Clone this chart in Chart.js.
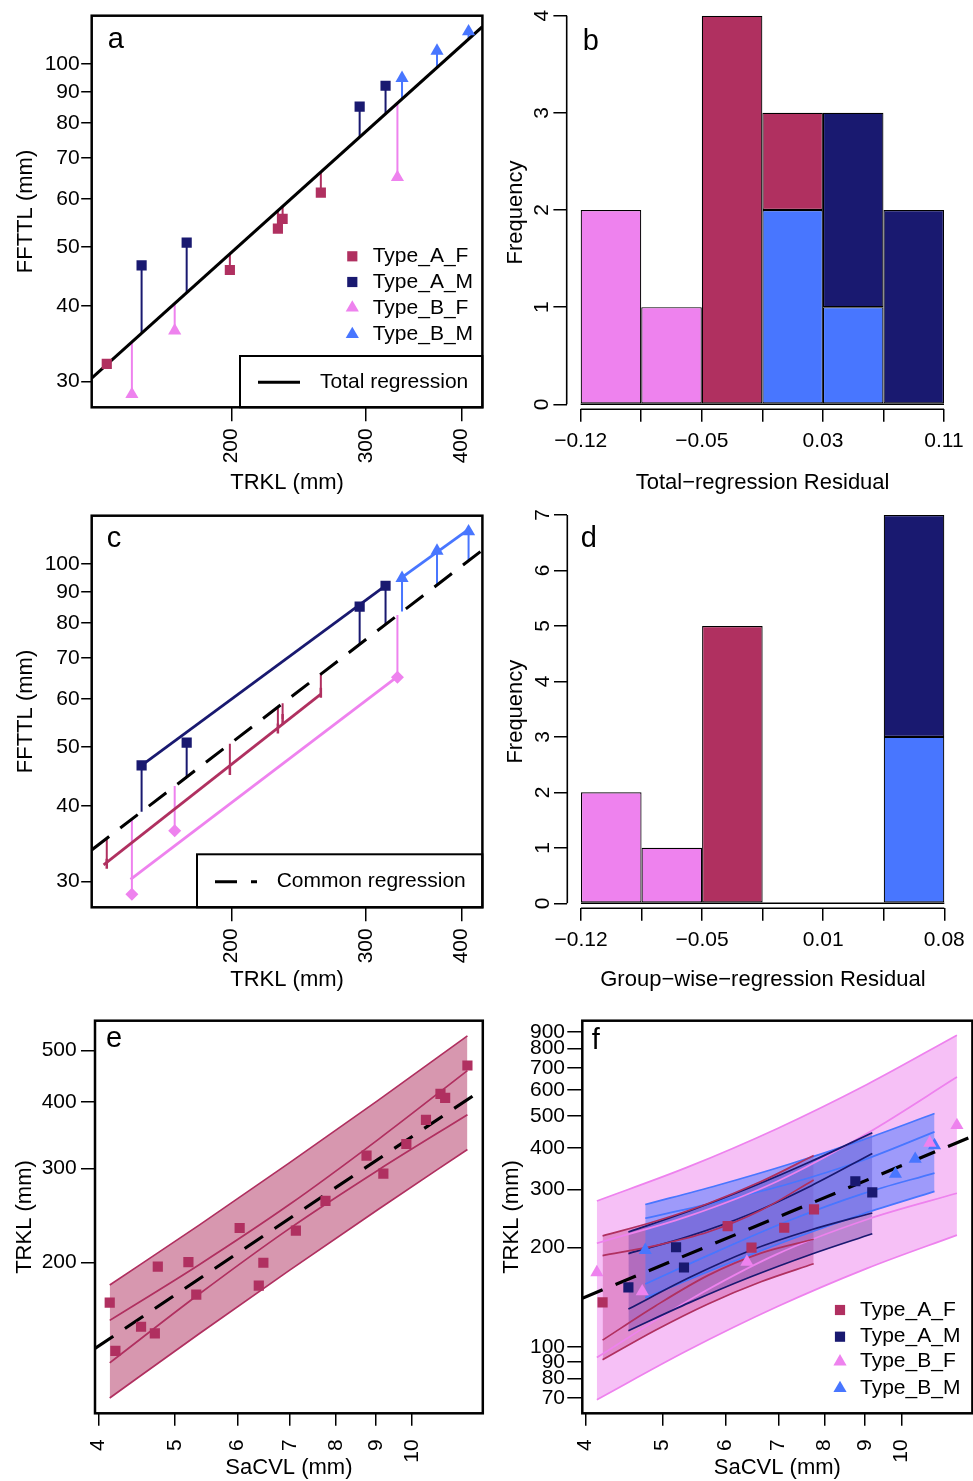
<!DOCTYPE html>
<html>
<head>
<meta charset="utf-8">
<title>Regression panels</title>
<script src="https://cdn.jsdelivr.net/npm/chart.js@4.4.1/dist/chart.umd.min.js"></script>
<style>
  html, body { margin:0; padding:0; background:#ffffff; width:973px; height:1481px; overflow:hidden; position:relative; }
  canvas { position:absolute; display:block; }
</style>
</head>
<body>
<canvas id="pa"></canvas>
<canvas id="pb"></canvas>
<canvas id="pc"></canvas>
<canvas id="pd"></canvas>
<canvas id="pe"></canvas>
<canvas id="pf"></canvas>
<script>
// ================= DATA =================
// Panels a & c : TRKL (x) vs FFTTL (y), by group
const trklAF  = [137.3, 199.0, 230.0, 233.3, 261.8];
const ffttlAF = [32.1, 45.8, 53.6, 55.6, 61.4];
const trklAM  = [152.5, 174.7, 294.3, 318.2];
const ffttlAM = [46.6, 50.8, 85.1, 92.1];
const trklBF  = [148.1, 168.5, 329.8];
const ffttlBF = [28.6, 36.4, 65.1];
const trklBM  = [334.4, 371.6, 408.7];
const ffttlBM = [94.8, 105.1, 113.1];

// Panel a : total regression line and fitted values
const totalLineTRKL  = [131.2, 426.1];
const totalLineFFTTL = [30.39, 115.2];
const totalFitAF = [32.0, 48.7, 57.4, 58.3, 66.4];
const totalFitAM = [36.1, 42.0, 75.8, 82.8];
const totalFitBF = [34.9, 40.4, 86.2];
const totalFitBM = [87.6, 98.7, 109.9];

// Panel c : common regression line, fitted values, group-wise lines
const commonLineTRKL  = [131.2, 426.1];
const commonLineFFTTL = [33.83, 105.4];
const commonFitAF = [35.4, 50.6, 58.2, 59.0, 65.9];
const commonFitAM = [39.1, 44.6, 73.8, 79.6];
const commonFitBF = [38.0, 43.1, 82.4];
const commonFitBM = [83.5, 92.4, 101.3];
const groupLineAF_TRKL = [136.0, 261.8], groupLineAF_FFTTL = [31.96, 61.05];
const groupLineAM_TRKL = [152.5, 318.2], groupLineAM_FFTTL = [46.6, 92.1];
const groupLineBF_TRKL = [147.5, 329.8], groupLineBF_FFTTL = [30.27, 65.25];
const groupLineBM_TRKL = [334.4, 408.7], groupLineBM_FFTTL = [95.1, 114.0];

// Panel b : total-regression residual histogram (6 bins)
const histB_edges = ['\u22120.12', '', '\u22120.05', '', '0.03', '', '0.11'];
const histB_BF = [2, 1, 0, 0, 0, 0];
const histB_BM = [0, 0, 0, 2, 1, 0];
const histB_AF = [0, 0, 4, 1, 0, 0];
const histB_AM = [0, 0, 0, 0, 2, 2];
const histB_yTicks = [0, 1, 2, 3, 4];

// Panel d : group-wise-regression residual histogram (6 bins)
const histD_edges = ['\u22120.12', '', '\u22120.05', '', '0.01', '', '0.08'];
const histD_BF = [2, 1, 0, 0, 0, 0];
const histD_BM = [0, 0, 0, 0, 0, 3];
const histD_AF = [0, 0, 5, 0, 0, 0];
const histD_AM = [0, 0, 0, 0, 0, 4];
const histD_yTicks = [0, 1, 2, 3, 4, 5, 6, 7];

// Panels e & f : SaCVL (x) vs TRKL (y), by group
const sacvlAF = [4.201, 6.040, 6.473, 7.118, 7.761];
const trklSAF = [136.3, 232.0, 199.6, 229.3, 260.8];
const sacvlAM = [4.528, 5.200, 5.321, 8.750, 9.191];
const trklSAM = [151.3, 200.2, 173.8, 317.3, 293.5];
const sacvlBF = [4.132, 4.714, 6.387, 10.86, 11.75];
const trklSBF = [167.9, 147.0, 180.7, 414.5, 468.8];
const sacvlBM = [4.755, 9.830, 10.41, 11.01];
const trklSBM = [196.2, 333.7, 370.4, 407.4];

// Panel e : pooled prediction / confidence bands
const bandE_x    = [4.132, 5.366, 6.969, 9.050, 11.75];
const bandE_PIup = [181.2, 234.9, 306.9, 403.2, 533.1];
const bandE_CIup = [155.5, 197.9, 256.2, 340.2, 458.7];
const bandE_CIlo = [129.4, 174.3, 230.9, 298.0, 378.8];
const bandE_PIlo = [111.1, 146.8, 192.7, 251.4, 326.0];
const commonE_SaCVL = [3.958, 12.29], commonE_TRKL = [137.7, 422.9];

// Panel f : group bands
const bandAF_x = [4.201, 4.897, 5.706, 6.653, 7.753];
const bandAF_PIup = [216.7, 239.9, 271.6, 316.5, 379.6];
const bandAF_CIup = [188.9, 202.5, 222.6, 259.1, 320.1];
const bandAF_CIlo = [104.7, 132.9, 164.5, 192.1, 211.6];
const bandAF_PIlo = [91.3, 112.2, 134.8, 157.3, 178.4];
const bandAM_x = [4.528, 5.405, 6.450, 7.700, 9.191];
const bandAM_PIup = [222.6, 257.8, 303.6, 364.5, 445.0];
const bandAM_CIup = [191.5, 216.4, 252.5, 307.6, 385.0];
const bandAM_CIlo = [130.0, 162.0, 195.6, 226.1, 254.3];
const bandAM_PIlo = [111.8, 136.0, 162.6, 190.7, 220.0];
const bandBF_x = [4.132, 5.366, 6.969, 9.050, 11.75];
const bandBF_PIup = [276.5, 349.5, 457.9, 623.3, 878.9];
const bandBF_CIup = [205.9, 247.8, 316.9, 442.8, 656.3];
const bandBF_CIlo = [92.7, 137.2, 190.8, 243.0, 291.7];
const bandBF_PIlo = [69.1, 97.2, 132.1, 172.7, 217.9];
const bandBM_x = [4.755, 5.868, 7.235, 8.926, 11.01];
const bandBM_PIup = [269.7, 308.5, 357.8, 422.7, 508.7];
const bandBM_CIup = [245.0, 274.8, 312.4, 366.7, 447.6];
const bandBM_CIlo = [154.8, 194.8, 241.6, 290.5, 335.9];
const bandBM_PIlo = [140.6, 173.5, 211.0, 252.1, 295.5];
const commonF_SaCVL = [3.961, 12.2], commonF_TRKL = [140.2, 431.0];

// Tick values
const ticksFFTTL = [30, 40, 50, 60, 70, 80, 90, 100];
const ticksTRKLx = [200, 300, 400];
const ticksSaCVL = [4, 5, 6, 7, 8, 9, 10];
const ticksTRKLe = [200, 300, 400, 500];
const ticksTRKLf = [70, 80, 90, 100, 200, 300, 400, 500, 600, 700, 800, 900];

// ================= STYLE =================
const FONT = '"Liberation Sans", Arial, Helvetica, sans-serif';
const C_AF = '#B03060', C_AM = '#191970', C_BF = '#EE82EE', C_BM = '#4876FF';
const F_AF = 'rgba(176,48,96,0.5)', F_AM = 'rgba(25,25,112,0.5)', F_BF = 'rgba(238,130,238,0.5)', F_BM = 'rgba(72,118,255,0.5)';
const SQ_R = 7.2, TRI_R = 7.6;

const legendGroups = [
  { sym: 'rect', color: C_AF, text: 'Type_A_F' },
  { sym: 'rect', color: C_AM, text: 'Type_A_M' },
  { sym: 'triangle', color: C_BF, text: 'Type_B_F' },
  { sym: 'triangle', color: C_BM, text: 'Type_B_M' }
];

function pts(xs, ys) { return xs.map((x, i) => ({ x: x, y: ys[i] })); }
function setTicks(vals) { return s => { s.ticks = vals.map(v => ({ value: v })); }; }

function axisX(o) {
  return {
    type: o.type, position: 'bottom', min: o.min, max: o.max, bounds: 'data', offset: false,
    stacked: !!o.stacked,
    afterBuildTicks: setTicks(o.ticks),
    afterFit: s => { s.height = o.height; },
    grid: { display: true, drawOnChartArea: false, drawTicks: true, tickLength: o.tl, color: '#000', lineWidth: 1.5, offset: false },
    border: { display: false },
    ticks: { display: true, autoSkip: false, minRotation: o.rot, maxRotation: o.rot, padding: o.pad, color: '#000',
      font: { family: FONT, size: 21, lineHeight: o.lh }, callback: o.cb || (v => String(v)) },
    title: { display: true, text: o.title, color: '#000', font: { family: FONT, size: 22, lineHeight: 1 }, padding: { top: 0, bottom: o.tpad } }
  };
}
function axisY(o) {
  return {
    type: o.type, position: 'left', min: o.min, max: o.max, bounds: 'data',
    stacked: !!o.stacked,
    afterBuildTicks: setTicks(o.ticks),
    afterFit: s => { s.width = o.width; },
    grid: { display: true, drawOnChartArea: false, drawTicks: true, tickLength: o.tl, color: '#000', lineWidth: 1.5 },
    border: { display: false },
    ticks: { display: o.labels !== false, autoSkip: false, padding: o.pad || 0, color: '#000',
      font: { family: FONT, size: 21, lineHeight: 1 }, callback: v => String(v) },
    title: { display: true, text: o.title, color: '#000', font: { family: FONT, size: 22, lineHeight: 1 }, padding: { top: o.tpad, bottom: 0 } }
  };
}

function drawSym(ctx, sym, color, x, y) {
  ctx.fillStyle = color;
  ctx.beginPath();
  if (sym === 'rect') { const s = SQ_R * Math.SQRT2; ctx.rect(x - s / 2, y - s / 2, s, s); }
  else { const r = TRI_R; ctx.moveTo(x, y - r); ctx.lineTo(x + r * 0.866, y + r / 2); ctx.lineTo(x - r * 0.866, y + r / 2); ctx.closePath(); }
  ctx.fill();
}

function decor(o) {
  return {
    id: 'decor',
    afterDraw(chart) {
      const ctx = chart.ctx, ca = chart.chartArea;
      ctx.save();
      ctx.strokeStyle = '#000'; ctx.fillStyle = '#000';
      if (o.box) {
        ctx.lineWidth = 2.5;
        ctx.strokeRect(ca.left, ca.top, ca.right - ca.left, ca.bottom - ca.top);
      }
      if (o.hist) {
        const xs = chart.scales.x, ys = chart.scales.y;
        const x0 = xs.getPixelForValue(0), x1 = xs.getPixelForValue(o.hist.nb);
        const y0 = ys.getPixelForValue(0), y1 = ys.getPixelForValue(o.hist.ymax);
        ctx.lineWidth = 1.6;
        ctx.beginPath();
        ctx.moveTo(x0, y0); ctx.lineTo(x1, y0);
        ctx.moveTo(ca.left, y0); ctx.lineTo(ca.left, y1);
        ctx.moveTo(x0, ca.bottom); ctx.lineTo(x1, ca.bottom);
        ctx.stroke();
        ctx.font = '21px ' + FONT; ctx.textAlign = 'center'; ctx.textBaseline = 'middle';
        ys.ticks.forEach(t => {
          ctx.save();
          ctx.translate(ca.left - 24, ys.getPixelForValue(t.value));
          ctx.rotate(-Math.PI / 2);
          ctx.fillText(String(t.value), 0, 0);
          ctx.restore();
        });
      }
      if (o.legend) {
        ctx.font = '21px ' + FONT; ctx.textAlign = 'left'; ctx.textBaseline = 'middle';
        o.legend.rows.forEach((yy, i) => {
          const it = legendGroups[i];
          drawSym(ctx, it.sym, it.color, o.legend.sx, yy);
          ctx.fillStyle = '#000';
          ctx.fillText(it.text, o.legend.tx, yy);
        });
      }
      if (o.lbox) {
        const b = o.lbox;
        ctx.lineWidth = 2; ctx.strokeStyle = '#000';
        ctx.strokeRect(b.x, b.y, ca.right - b.x, ca.bottom - b.y);
        ctx.lineWidth = 3; ctx.setLineDash(b.dash || []);
        ctx.beginPath(); ctx.moveTo(b.x0, b.ly); ctx.lineTo(b.x1, b.ly); ctx.stroke();
        ctx.setLineDash([]);
        ctx.fillStyle = '#000'; ctx.font = '21px ' + FONT; ctx.textAlign = 'left'; ctx.textBaseline = 'middle';
        ctx.fillText(b.text, b.tx, b.ly);
      }
      if (o.letter) {
        ctx.fillStyle = '#000'; ctx.font = '29px ' + FONT; ctx.textAlign = 'left'; ctx.textBaseline = 'alphabetic';
        ctx.fillText(o.letter.t, o.letter.x, o.letter.y);
      }
      ctx.restore();
    }
  };
}

function makeChart(id, g, type, datasets, scales, deco) {
  const cv = document.getElementById(id);
  cv.width = g.w; cv.height = g.h;
  cv.style.left = g.x + 'px'; cv.style.top = g.y + 'px';
  cv.style.width = g.w + 'px'; cv.style.height = g.h + 'px';
  return new Chart(cv.getContext('2d'), {
    type: type,
    data: { datasets: datasets },
    options: {
      responsive: false, maintainAspectRatio: false, animation: false, devicePixelRatio: 1, events: [],
      layout: { padding: { left: 0, top: g.T, right: g.w - g.R, bottom: 0 } },
      plugins: { legend: { display: false }, tooltip: { enabled: false }, title: { display: false } },
      scales: scales
    },
    plugins: [decor(deco)]
  });
}

function lineDs(xs, ys, color, width, dash, order) {
  return { data: pts(xs, ys), borderColor: color, borderWidth: width, borderDash: dash || [], pointRadius: 0, fill: false, order: order };
}
function pointDs(xs, ys, style, color, radius, order, extra) {
  return Object.assign({ data: pts(xs, ys), showLine: false, pointStyle: style, pointRadius: radius,
    pointBackgroundColor: color, pointBorderColor: color, pointBorderWidth: 0, order: order }, extra || {});
}
function segDs(xs, ys, fits, color, order) {
  return xs.map((x, i) => ({ data: [{ x: x, y: fits[i] }, { x: x, y: ys[i] }], borderColor: color, borderWidth: 2, pointRadius: 0, fill: false, order: order }));
}

// ================= PANEL A =================
const gA = { x: 0, y: 0, w: 490, h: 499, L: 91.7, T: 15.7, R: 484.3, B: 407.3 };
makeChart('pa', gA, 'line', [
  pointDs(trklAF, ffttlAF, 'rect', C_AF, SQ_R, 1),
  pointDs(trklAM, ffttlAM, 'rect', C_AM, SQ_R, 1),
  pointDs(trklBF, ffttlBF, 'triangle', C_BF, TRI_R, 1),
  pointDs(trklBM, ffttlBM, 'triangle', C_BM, TRI_R, 1),
  lineDs(totalLineTRKL, totalLineFFTTL, '#000', 3, null, 2),
  ...segDs(trklAF, ffttlAF, totalFitAF, C_AF, 3),
  ...segDs(trklAM, ffttlAM, totalFitAM, C_AM, 3),
  ...segDs(trklBF, ffttlBF, totalFitBF, C_BF, 3),
  ...segDs(trklBM, ffttlBM, totalFitBM, C_BM, 3)
], {
  x: axisX({ type: 'logarithmic', min: 131.2, max: 426.1, ticks: ticksTRKLx, height: gA.h - gA.B, tl: 14, pad: 7, rot: 90, lh: 1, title: 'TRKL (mm)', tpad: 5.2 }),
  y: axisY({ type: 'logarithmic', min: 27.22, max: 120.1, ticks: ticksFFTTL, width: gA.L, tl: 10.5, pad: 1.5, title: 'FFTTL (mm)', tpad: 14.5 })
}, {
  box: true,
  letter: { t: 'a', x: 107.7, y: 48.3 },
  legend: { sx: 352.3, tx: 372.7, rows: [256.3, 282, 307.8, 334.3] },
  lbox: { x: 240, y: 356, x0: 258, x1: 300, ly: 382.3, text: 'Total regression', tx: 320 }
});

// ================= PANEL B =================
const gB = { x: 490, y: 0, w: 483, h: 499, L: 76.7, T: 15.7, R: 468.5, B: 409.3 };
function barDs(counts, color) {
  return { data: counts.map((c, i) => ({ x: i + 0.5, y: c })), backgroundColor: color, borderColor: '#000', borderWidth: 1.2,
    borderSkipped: false, barPercentage: 1, categoryPercentage: 1, inflateAmount: 0 };
}
makeChart('pb', gB, 'bar', [
  barDs(histB_BF, C_BF), barDs(histB_BM, C_BM), barDs(histB_AF, C_AF), barDs(histB_AM, C_AM)
], {
  x: axisX({ type: 'linear', min: -0.2312, max: 6.2395, stacked: true, ticks: [0, 1, 2, 3, 4, 5, 6], height: gB.h - gB.B, tl: 12.4, pad: 2, rot: 0, lh: 1.65,
    cb: v => histB_edges[Math.round(v)], title: 'Total\u2212regression Residual', tpad: 5.2 }),
  y: axisY({ type: 'linear', min: -0.0515, max: 4, stacked: true, ticks: histB_yTicks, width: gB.L, tl: 13.3, labels: false, title: 'Frequency', tpad: 14.5 })
}, {
  hist: { nb: 6, ymax: 4 },
  letter: { t: 'b', x: 92.7, y: 50 }
});

// ================= PANEL C =================
const gC = { x: 0, y: 500, w: 490, h: 500, L: 91.7, T: 15.7, R: 484.3, B: 407.3 };
makeChart('pc', gC, 'line', [
  pointDs(trklAF, ffttlAF, 'line', C_AF, 5, 1, { pointBorderWidth: 2.5, pointRotation: 90 }),
  pointDs(trklAM, ffttlAM, 'rect', C_AM, SQ_R, 1),
  pointDs(trklBF, ffttlBF, 'rectRot', C_BF, 6.5, 1),
  pointDs(trklBM, ffttlBM, 'triangle', C_BM, TRI_R, 1),
  lineDs(groupLineAF_TRKL, groupLineAF_FFTTL, C_AF, 2.8, null, 2),
  lineDs(groupLineAM_TRKL, groupLineAM_FFTTL, C_AM, 2.8, null, 2),
  lineDs(groupLineBF_TRKL, groupLineBF_FFTTL, C_BF, 2.8, null, 2),
  lineDs(groupLineBM_TRKL, groupLineBM_FFTTL, C_BM, 2.8, null, 2),
  lineDs(commonLineTRKL, commonLineFFTTL, '#000', 3, [22, 14], 3),
  ...segDs(trklAF, ffttlAF, commonFitAF, C_AF, 4),
  ...segDs(trklAM, ffttlAM, commonFitAM, C_AM, 4),
  ...segDs(trklBF, ffttlBF, commonFitBF, C_BF, 4),
  ...segDs(trklBM, ffttlBM, commonFitBM, C_BM, 4)
], {
  x: axisX({ type: 'logarithmic', min: 131.2, max: 426.1, ticks: ticksTRKLx, height: gC.h - gC.B, tl: 14, pad: 7, rot: 90, lh: 1, title: 'TRKL (mm)', tpad: 9.5 }),
  y: axisY({ type: 'logarithmic', min: 27.22, max: 120.1, ticks: ticksFFTTL, width: gC.L, tl: 10.5, pad: 1.5, title: 'FFTTL (mm)', tpad: 14.5 })
}, {
  box: true,
  letter: { t: 'c', x: 106.7, y: 46.7 },
  lbox: { x: 197, y: 354.3, x0: 215, x1: 257, ly: 381.7, dash: [22, 14], text: 'Common regression', tx: 276.7 }
});

// ================= PANEL D =================
const gD = { x: 490, y: 500, w: 483, h: 500, L: 77.3, T: 15, R: 468.5, B: 408.3 };
makeChart('pd', gD, 'bar', [
  barDs(histD_BF, C_BF), barDs(histD_BM, C_BM), barDs(histD_AF, C_AF), barDs(histD_AM, C_AM)
], {
  x: axisX({ type: 'linear', min: -0.2263, max: 6.2345, stacked: true, ticks: [0, 1, 2, 3, 4, 5, 6], height: gD.h - gD.B, tl: 12.4, pad: 2, rot: 0, lh: 1.65,
    cb: v => histD_edges[Math.round(v)], title: 'Group\u2212wise\u2212regression Residual', tpad: 9.5 }),
  y: axisY({ type: 'linear', min: -0.0901, max: 7, stacked: true, ticks: histD_yTicks, width: gD.L, tl: 13.3, labels: false, title: 'Frequency', tpad: 14.5 })
}, {
  hist: { nb: 6, ymax: 7 },
  letter: { t: 'd', x: 90.7, y: 46.7 }
});

// ================= PANEL E =================
function bandSet(ds, bx, pu, cu, cl, pl, lineColor, fillColor, fillOrder) {
  const idxPL = ds.length;
  const mk = ys => ({ data: pts(bx, ys), borderColor: lineColor, borderWidth: 1.7, pointRadius: 0, fill: false,
    cubicInterpolationMode: 'monotone', order: 5 });
  ds.push(mk(pl));
  ds.push(mk(pu));
  ds.push(mk(cu));
  ds.push(mk(cl));
  ds.push({ data: pts(bx, pu), borderWidth: 0, borderColor: 'rgba(0,0,0,0)', backgroundColor: fillColor, pointRadius: 0,
    cubicInterpolationMode: 'monotone', fill: { target: idxPL }, order: fillOrder });
}
const gE = { x: 0, y: 999, w: 490, h: 482, L: 95, T: 21.7, R: 488.3, B: 414.3 };
const dsE = [];
bandSet(dsE, bandE_x, bandE_PIup, bandE_CIup, bandE_CIlo, bandE_PIlo, C_AF, F_AF, 10);
dsE.push(lineDs(commonE_SaCVL, commonE_TRKL, '#000', 3.2, [22, 14], 3));
dsE.push(pointDs([...sacvlAF, ...sacvlAM, ...sacvlBF, ...sacvlBM], [...trklSAF, ...trklSAM, ...trklSBF, ...trklSBM], 'rect', C_AF, SQ_R, 1));
makeChart('pe', gE, 'line', dsE, {
  x: axisX({ type: 'logarithmic', min: 3.958, max: 12.29, ticks: ticksSaCVL, height: gE.h - gE.B, tl: 12.5, pad: 13.5, rot: 90, lh: 1, title: 'SaCVL (mm)', tpad: 2.2 }),
  y: axisY({ type: 'logarithmic', min: 104.0, max: 569.2, ticks: ticksTRKLe, width: gE.L, tl: 14, pad: 4.3, title: 'TRKL (mm)', tpad: 13.5 })
}, {
  box: true,
  letter: { t: 'e', x: 106, y: 48.3 }
});

// ================= PANEL F =================
const gF = { x: 490, y: 999, w: 490, h: 482, L: 92.3, T: 21.7, R: 485.8, B: 414.3 };
const dsF = [];
bandSet(dsF, bandAF_x, bandAF_PIup, bandAF_CIup, bandAF_CIlo, bandAF_PIlo, C_AF, F_AF, 14);
bandSet(dsF, bandAM_x, bandAM_PIup, bandAM_CIup, bandAM_CIlo, bandAM_PIlo, C_AM, F_AM, 13);
bandSet(dsF, bandBF_x, bandBF_PIup, bandBF_CIup, bandBF_CIlo, bandBF_PIlo, C_BF, F_BF, 12);
bandSet(dsF, bandBM_x, bandBM_PIup, bandBM_CIup, bandBM_CIlo, bandBM_PIlo, C_BM, F_BM, 11);
dsF.push(lineDs(commonF_SaCVL, commonF_TRKL, '#000', 3.2, [22, 14], 3));
dsF.push(pointDs(sacvlAF, trklSAF, 'rect', C_AF, SQ_R, 1));
dsF.push(pointDs(sacvlAM, trklSAM, 'rect', C_AM, SQ_R, 1));
dsF.push(pointDs(sacvlBF, trklSBF, 'triangle', C_BF, TRI_R, 1));
dsF.push(pointDs(sacvlBM, trklSBM, 'triangle', C_BM, TRI_R, 1));
makeChart('pf', gF, 'line', dsF, {
  x: axisX({ type: 'logarithmic', min: 3.961, max: 12.29, ticks: ticksSaCVL, height: gF.h - gF.B, tl: 12.5, pad: 13.5, rot: 90, lh: 1, title: 'SaCVL (mm)', tpad: 2.2 }),
  y: axisY({ type: 'logarithmic', min: 62.84, max: 972.5, ticks: ticksTRKLf, width: gF.L, tl: 15, pad: 2.3, title: 'TRKL (mm)', tpad: 11.2 })
}, {
  box: true,
  letter: { t: 'f', x: 101.7, y: 50.3 },
  legend: { sx: 350, tx: 370, rows: [311, 337.7, 362.7, 389.3] }
});
</script>
</body>
</html>
